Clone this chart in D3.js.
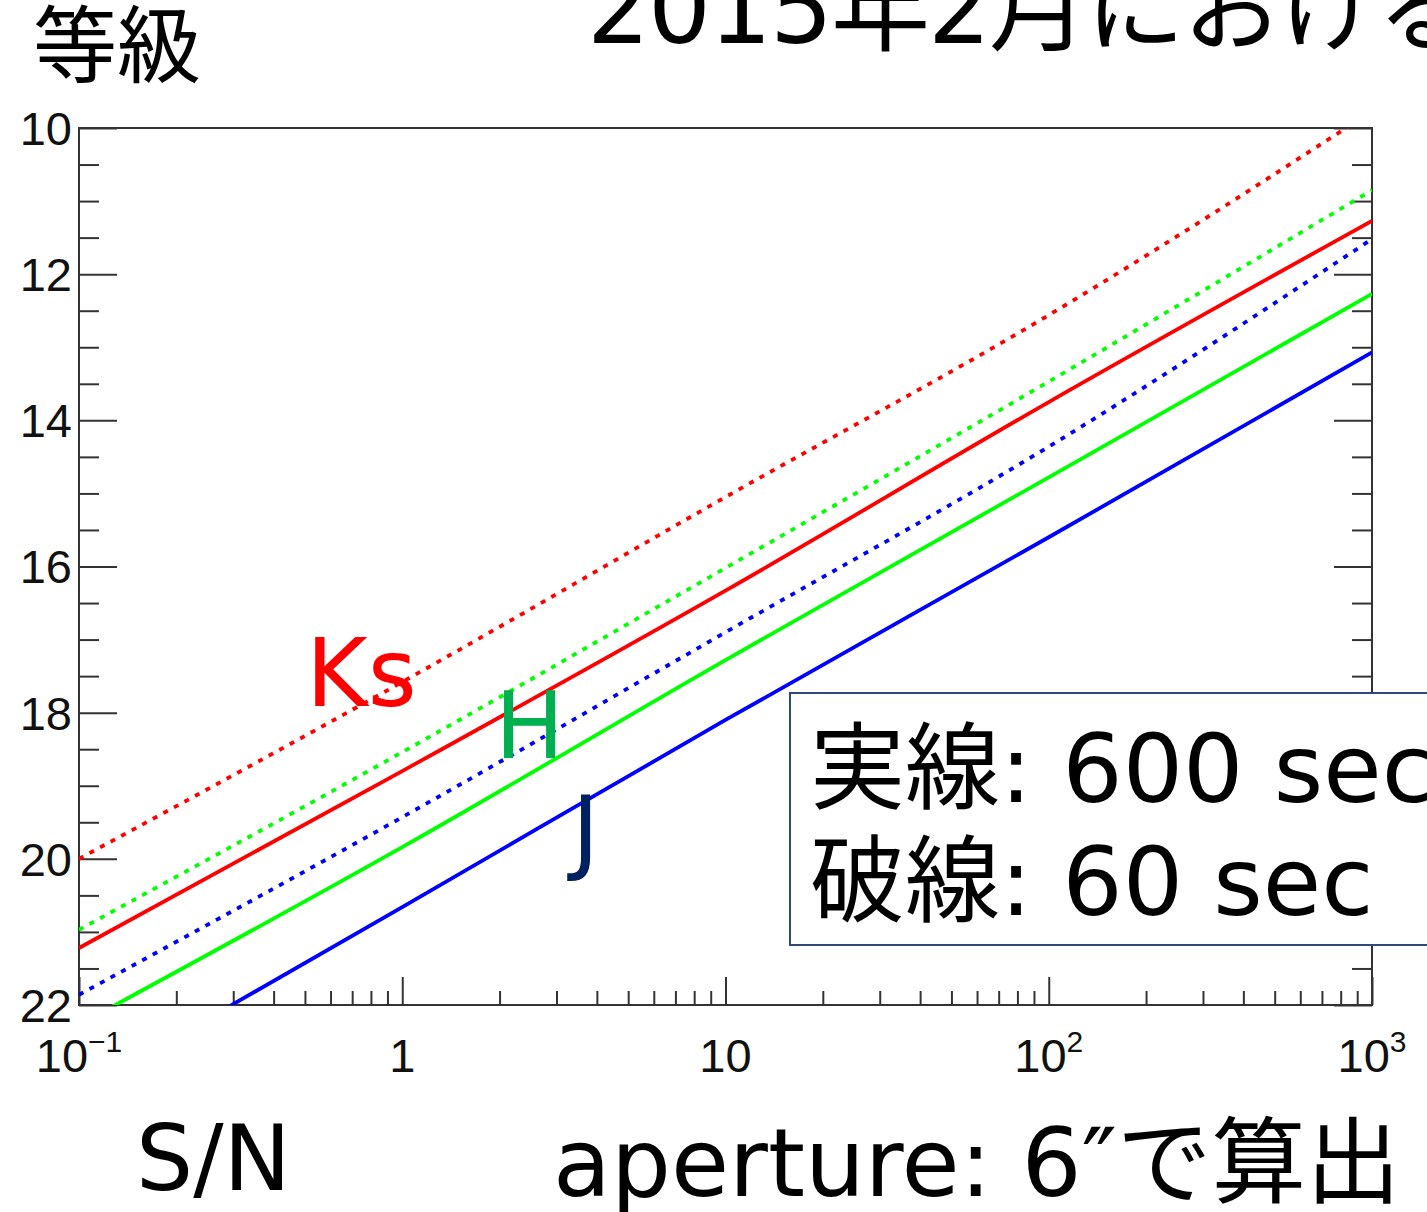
<!DOCTYPE html>
<html>
<head>
<meta charset="utf-8">
<script src="https://cdn.jsdelivr.net/npm/d3@7"></script>
<style>
  body { margin: 0; background: #fff; }
  text { font-family: "DejaVu Sans", "Noto Sans CJK JP", sans-serif; }
  .tick text, .tickLabel { font-family: "Liberation Sans", Arial, sans-serif; }
</style>
</head>
<body>
<div id="chart"></div>
<script>
// datos (S/N vs magnitud limite)
const snValues = [0.1, 1, 10, 100, 1000]
const ks60 = [20.0, 17.58, 15.05, 12.56, 9.77]
const h60 = [20.97, 18.54, 16.02, 13.47, 10.85]
const ks600 = [21.22, 18.8, 16.33, 13.75, 11.27]
const j60 = [21.86, 19.43, 16.9, 14.36, 11.52]
const h600 = [22.27, 19.84, 17.28, 14.78, 12.27]
const j600 = [23.2, 20.66, 18.1, 15.6, 13.07]

const yMajor = [10, 12, 14, 16, 18, 20, 22]
const xMajor = [0.1, 1, 10, 100, 1000]
const xLabels = [["10", "\u22121"], ["1", ""], ["10", ""], ["10", "2"], ["10", "3"]]

const width = 1427
const height = 1212
const plot = {left: 79, right: 1372, top: 128, bottom: 1005}

const svg = d3.select("#chart").append("svg")
    .attr("width", width).attr("height", height)

const x = d3.scaleLog().domain([0.1, 1000]).range([plot.left, plot.right])
const y = d3.scaleLinear().domain([10, 22]).range([plot.top, plot.bottom])

// ticks menores
const yMinor = d3.range(10, 22.01, 0.5).filter(v => v % 2 !== 0)
const xMinor = []
for (let d = 0.1; d < 1000; d *= 10) {
    for (let k = 2; k <= 9; k++) xMinor.push(+(d * k).toPrecision(3))
}

svg.append("defs").append("clipPath").attr("id", "clip")
    .append("rect")
    .attr("x", plot.left).attr("y", plot.top)
    .attr("width", plot.right - plot.left).attr("height", plot.bottom - plot.top)

// ejes
const axisColor = "#333"
function styleAxis(g) {
    g.select(".domain").remove()
    g.selectAll("line").attr("stroke", axisColor).attr("stroke-width", 2)
}
svg.append("g").attr("transform", `translate(${plot.left},0)`)
    .call(d3.axisLeft(y).tickValues(yMajor).tickSize(-38).tickFormat("")).call(styleAxis)
svg.append("g").attr("transform", `translate(${plot.left},0)`)
    .call(d3.axisLeft(y).tickValues(yMinor).tickSize(-20).tickFormat("")).call(styleAxis)
svg.append("g").attr("transform", `translate(${plot.right},0)`)
    .call(d3.axisRight(y).tickValues(yMajor).tickSize(-38).tickFormat("")).call(styleAxis)
svg.append("g").attr("transform", `translate(${plot.right},0)`)
    .call(d3.axisRight(y).tickValues(yMinor).tickSize(-20).tickFormat("")).call(styleAxis)
svg.append("g").attr("transform", `translate(0,${plot.bottom})`)
    .call(d3.axisBottom(x).tickValues(xMajor).tickSize(-28).tickFormat("")).call(styleAxis)
svg.append("g").attr("transform", `translate(0,${plot.bottom})`)
    .call(d3.axisBottom(x).tickValues(xMinor).tickSize(-14).tickFormat("")).call(styleAxis)

svg.append("rect")
    .attr("x", plot.left).attr("y", plot.top)
    .attr("width", plot.right - plot.left).attr("height", plot.bottom - plot.top)
    .attr("fill", "none").attr("stroke", axisColor).attr("stroke-width", 2)

// etiquetas de los ejes
svg.selectAll(".yLab").data(yMajor).join("text")
    .attr("class", "tickLabel")
    .attr("x", plot.left - 7).attr("y", d => y(d)).attr("dy", "0.36em")
    .attr("text-anchor", "end").attr("font-size", 47).attr("fill", "#111")
    .text(d => d)

const xl = svg.selectAll(".xLab").data(xMajor).join("text")
    .attr("class", "tickLabel")
    .attr("x", d => x(d)).attr("y", 1072)
    .attr("text-anchor", "middle").attr("font-size", 47).attr("fill", "#111")
xl.append("tspan").text((d, i) => xLabels[i][0])
xl.append("tspan").attr("font-size", 30).attr("dy", -20).text((d, i) => xLabels[i][1])

// lineas
const series = [
    {vals: ks60, color: "#ff0000", dash: "5,7"},
    {vals: h60, color: "#00ff00", dash: "5,7"},
    {vals: ks600, color: "#ff0000", dash: null},
    {vals: j60, color: "#0000ff", dash: "5,7"},
    {vals: h600, color: "#00ff00", dash: null},
    {vals: j600, color: "#0000ff", dash: null}
]
const line = d3.line().x(d => x(d[0])).y(d => y(d[1])).curve(d3.curveMonotoneX)
svg.append("g").attr("clip-path", "url(#clip)")
    .selectAll("path").data(series).join("path")
    .attr("d", s => line(snValues.map((v, i) => [v, s.vals[i]])))
    .attr("fill", "none")
    .attr("stroke", s => s.color)
    .attr("stroke-width", 3.8)
    .attr("stroke-dasharray", s => s.dash)

// nombres de las bandas
svg.append("text").attr("x", 306).attr("y", 706).attr("font-size", 94)
    .attr("fill", "#ff0000").text("Ks")
svg.append("text").attr("x", 495).attr("y", 758).attr("font-size", 92)
    .attr("fill", "#00b050").text("H")
svg.append("text").attr("x", 572).attr("y", 862).attr("font-size", 92)
    .attr("fill", "#002060").text("J")

// leyenda
svg.append("rect").attr("x", 790).attr("y", 693).attr("width", 700).attr("height", 252)
    .attr("fill", "#fff").attr("stroke", "#2f4a7a").attr("stroke-width", 2)
svg.append("text").attr("x", 810).attr("y", 802).attr("font-size", 95).attr("fill", "#000")
    .text("実線: 600 sec")
svg.append("text").attr("x", 810).attr("y", 915).attr("font-size", 95).attr("fill", "#000")
    .text("破線: 60 sec")

// textos
svg.append("text").attr("x", 33).attr("y", 76).attr("font-size", 84).attr("fill", "#000")
    .text("等級")
svg.append("text").attr("x", 587).attr("y", 43).attr("font-size", 99)
    .attr("letter-spacing", -2).attr("fill", "#000")
    .text("2015年2月における")
svg.append("text").attr("x", 136).attr("y", 1190).attr("font-size", 90).attr("fill", "#000")
    .text("S/N")
svg.append("text").attr("x", 553).attr("y", 1196).attr("font-size", 94.5).attr("fill", "#000")
    .text("aperture: 6\u2033で算出")
</script>
</body>
</html>
